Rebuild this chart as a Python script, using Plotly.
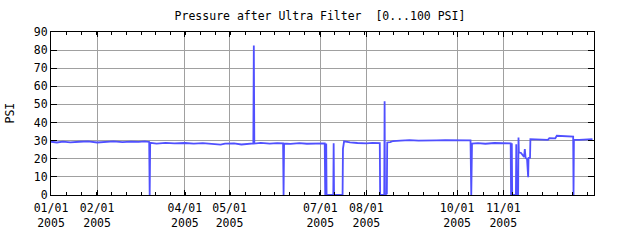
import plotly.graph_objects as go

dates = [
    "2005-01-01", "2005-01-05", "2005-01-09", "2005-01-14", "2005-01-20", "2005-01-26",
    "2005-02-01", "2005-02-06", "2005-02-12", "2005-02-18", "2005-02-24", "2005-03-01",
    "2005-03-05", "2005-03-08 00:00", "2005-03-08 08:00", "2005-03-08 16:00",
    "2005-03-13", "2005-03-19", "2005-03-25", "2005-04-01", "2005-04-07", "2005-04-13",
    "2005-04-19", "2005-04-25", "2005-04-28", "2005-05-04", "2005-05-09", "2005-05-13",
    "2005-05-17 00:00", "2005-05-17 08:00", "2005-05-17 16:00", "2005-05-22", "2005-05-28",
    "2005-06-02", "2005-06-06 00:00", "2005-06-06 08:00", "2005-06-06 16:00", "2005-06-11",
    "2005-06-17", "2005-06-22", "2005-06-27", "2005-07-01", "2005-07-04 00:00",
    "2005-07-04 08:00", "2005-07-04 20:00", "2005-07-05 00:00", "2005-07-05 06:00",
    "2005-07-09 18:00", "2005-07-10 00:00", "2005-07-10 06:00", "2005-07-16 00:00",
    "2005-07-16 06:00", "2005-07-17", "2005-07-21", "2005-07-26", "2005-08-01", "2005-08-05",
    "2005-08-10 00:00", "2005-08-10 06:00", "2005-08-13 00:00", "2005-08-13 06:00",
    "2005-08-13 12:00", "2005-08-14 18:00", "2005-08-15 00:00", "2005-08-17", "2005-08-19",
    "2005-08-24", "2005-08-30", "2005-09-05", "2005-09-11", "2005-09-17", "2005-09-23",
    "2005-10-01", "2005-10-06", "2005-10-10 00:00", "2005-10-10 12:00", "2005-10-11 00:00",
    "2005-10-15", "2005-10-20", "2005-10-26", "2005-11-01", "2005-11-05",
    "2005-11-06 00:00", "2005-11-06 06:00", "2005-11-06 18:00", "2005-11-07 00:00",
    "2005-11-09 12:00", "2005-11-09 18:00", "2005-11-10 00:00", "2005-11-11 00:00",
    "2005-11-11 06:00", "2005-11-11 12:00", "2005-11-13", "2005-11-14", "2005-11-15",
    "2005-11-15 12:00", "2005-11-16", "2005-11-17", "2005-11-17 18:00", "2005-11-18",
    "2005-11-19 00:00", "2005-11-19 06:00", "2005-11-23", "2005-11-27", "2005-12-01",
    "2005-12-02", "2005-12-06", "2005-12-07", "2005-12-12", "2005-12-16",
    "2005-12-18 00:00", "2005-12-18 06:00", "2005-12-18 12:00", "2005-12-22",
    "2005-12-27", "2005-12-31",
]
psi = [
    29.4, 29.0, 29.5, 29.1, 29.4, 29.6,
    29.0, 29.4, 29.6, 29.2, 29.5, 29.3,
    29.6, 29.3, 0, 28.8,
    28.4, 28.8, 28.5, 28.7, 28.4, 28.6,
    28.3, 27.8, 28.4, 28.5, 27.9, 28.4,
    28.5, 82.5, 28.4, 28.8, 28.4,
    28.6, 28.5, 0, 28.4, 28.2,
    28.6, 28.3, 28.5, 28.3, 28.5,
    0, 0, 28.4, 0,
    0, 28.6, 0, 0,
    25.5, 29.6, 29.0, 28.7, 28.5, 28.8,
    28.6, 0, 0, 51.7,
    0, 0.8, 29.0, 29.2, 29.8,
    30.0, 30.3, 30.0, 30.3, 30.2, 30.3,
    30.2, 30.3, 30.2, 0, 28.4,
    28.6, 28.3, 28.7, 28.5, 28.6,
    28.5, 0, 28.5, 0,
    0, 28.0, 0, 0,
    31.8, 23.5, 23.2, 22.3, 21.0,
    25.3, 20.5, 19.8, 9.8, 20.4,
    20.6, 30.8, 30.6, 30.3, 30.4,
    31.4, 31.3, 32.7, 32.5, 32.6,
    32.3, 0, 30.5, 30.4,
    30.6, 30.9,
]

tick_dates = ["2005-01-01", "2005-02-01", "2005-04-01", "2005-05-01",
              "2005-07-01", "2005-08-01", "2005-10-01", "2005-11-01"]
tick_labels = ["01/01<br>2005", "02/01<br>2005", "04/01<br>2005", "05/01<br>2005",
               "07/01<br>2005", "08/01<br>2005", "10/01<br>2005", "11/01<br>2005"]
y_ticks = [0, 10, 20, 30, 40, 50, 60, 70, 80, 90]

FONT = "DejaVu Sans Mono"

fig = go.Figure()
fig.add_trace(go.Scatter(x=dates, y=psi, mode="lines",
                         line=dict(color="#5050ff", width=1.8), hoverinfo="skip"))

fig.update_layout(
    width=640, height=240,
    margin=dict(l=51, r=46, t=32, b=45, autoexpand=False),
    paper_bgcolor="white", plot_bgcolor="white",
    showlegend=False,
    font=dict(family=FONT, size=11.5, color="black"),
    title=dict(text="Pressure after Ultra Filter  [0...100 PSI]",
               x=0.5, xref="container", xanchor="center",
               y=1 - 16 / 240, yref="container", yanchor="middle",
               font=dict(family=FONT, size=11.5, color="black")),
)
fig.update_xaxes(
    type="date", range=["2005-01-01", "2006-01-01"],
    tickmode="array", tickvals=tick_dates, ticktext=tick_labels,
    showgrid=True, gridcolor="#a0a0a0", gridwidth=1,
    showline=True, linecolor="black", linewidth=1, mirror="ticks",
    ticks="inside", ticklen=5, tickcolor="black", ticklabelstandoff=2,
    minor=dict(ticks="inside", ticklen=3, tickcolor="black",
               dtick=864000000, tick0="2005-01-01 12:00", showgrid=False),
    zeroline=False, fixedrange=True, automargin=False,
)
fig.update_yaxes(
    range=[0, 90], tickmode="array", tickvals=y_ticks,
    showgrid=True, gridcolor="#a0a0a0", gridwidth=1,
    showline=True, linecolor="black", linewidth=1, mirror="ticks",
    ticks="inside", ticklen=6, tickcolor="black",
    zeroline=False, fixedrange=True, automargin=False,
)
fig.add_annotation(text="PSI", textangle=-90, x=(9 - 51) / 543, y=0.5,
                   xref="paper", yref="paper", xanchor="center", yanchor="middle",
                   showarrow=False, font=dict(family=FONT, size=11.5, color="black"))

fig.write_html("out.html")
